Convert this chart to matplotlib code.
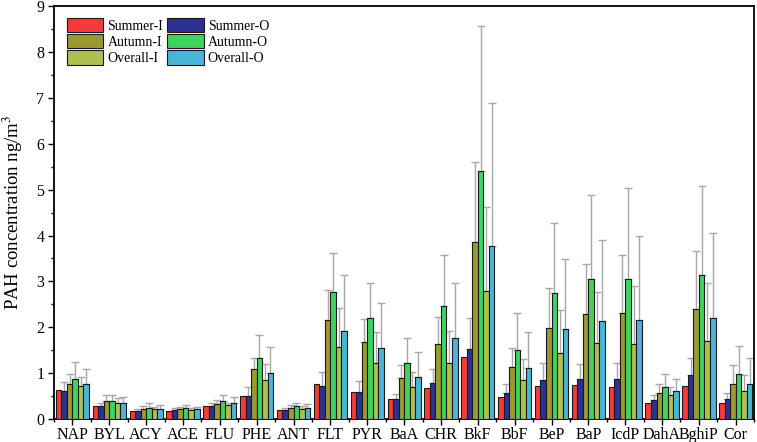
import numpy as np
import matplotlib
matplotlib.use('Agg')
import matplotlib.pyplot as plt
from matplotlib.ticker import MultipleLocator, FixedLocator

plt.rcParams['font.family'] = ['Liberation Serif', 'DejaVu Serif']
plt.rcParams['mathtext.fontset'] = 'stix'

# Categories (PAH compounds)
pahs = ['NAP', 'BYL', 'ACY', 'ACE', 'FLU', 'PHE', 'ANT', 'FLT', 'PYR', 'BaA',
        'CHR', 'BkF', 'BbF', 'BeP', 'BaP', 'IcdP', 'DahA', 'BghiP', 'Cor']

# Mean concentrations (ng/m3)
summer_i = [0.63, 0.29, 0.18, 0.175, 0.275, 0.50, 0.196, 0.77, 0.59, 0.43,
            0.68, 1.35, 0.49, 0.72, 0.74, 0.69, 0.36, 0.73, 0.35]
summer_o = [0.61, 0.29, 0.18, 0.19, 0.29, 0.50, 0.19, 0.73, 0.59, 0.43,
            0.78, 1.52, 0.57, 0.86, 0.87, 0.88, 0.42, 0.95, 0.43]
autumn_i = [0.755, 0.39, 0.225, 0.21, 0.33, 1.09, 0.23, 2.15, 1.67, 0.89,
            1.64, 3.85, 1.13, 1.98, 2.29, 2.31, 0.57, 2.39, 0.77]
autumn_o = [0.88, 0.39, 0.25, 0.23, 0.39, 1.34, 0.28, 2.76, 2.21, 1.23,
            2.46, 5.40, 1.50, 2.75, 3.05, 3.06, 0.69, 3.13, 0.99]
overall_i = [0.71, 0.35, 0.21, 0.20, 0.305, 0.84, 0.22, 1.57, 1.22, 0.70,
             1.23, 2.80, 0.86, 1.45, 1.65, 1.63, 0.52, 1.70, 0.60]
overall_o = [0.77, 0.35, 0.225, 0.22, 0.35, 0.995, 0.23, 1.92, 1.54, 0.91,
             1.76, 3.77, 1.11, 1.96, 2.14, 2.15, 0.60, 2.21, 0.76]

# Top of the error bars (mean + SD)
summer_o_top = [0.81, 0.36, 0.21, 0.23, 0.36, 0.70, 0.24, 1.02, 0.82, 0.545,
                1.09, 2.20, 0.755, 1.23, 1.19, 1.22, 0.52, 1.34, 0.56]
autumn_i_top = [0.98, 0.52, 0.28, 0.27, 0.41, 1.34, 0.30, 2.81, 2.18, 1.17,
                2.23, 5.60, 1.54, 2.85, 3.37, 3.57, 0.755, 3.66, 1.17]
autumn_o_top = [1.25, 0.52, 0.34, 0.31, 0.52, 1.83, 0.36, 3.63, 2.96, 1.76,
                3.57, 8.56, 2.32, 4.28, 4.88, 5.03, 0.99, 5.07, 1.60]
overall_i_top = [0.91, 0.46, 0.27, 0.25, 0.36, 1.21, 0.29, 2.43, 1.90, 1.02,
                 1.92, 4.63, 1.31, 2.37, 2.77, 2.89, 0.69, 2.97, 0.97]
overall_o_top = [1.10, 0.47, 0.30, 0.27, 0.47, 1.56, 0.32, 3.14, 2.54, 1.47,
                 2.96, 6.88, 1.90, 3.48, 3.91, 4.00, 0.87, 4.06, 1.32]

series = [
    ('Summer-I', summer_i, None, '#F83A3A'),
    ('Summer-O', summer_o, summer_o_top, '#2D3094'),
    ('Autumn-I', autumn_i, autumn_i_top, '#9A9A30'),
    ('Autumn-O', autumn_o, autumn_o_top, '#3DD460'),
    ('Overall-I', overall_i, overall_i_top, '#ADC150'),
    ('Overall-O', overall_o, overall_o_top, '#4AB5D9'),
]

fig = plt.figure(figsize=(7.57, 4.42), dpi=100)
ax = fig.add_axes([0.0713, 0.052, 0.925, 0.934])

x = np.arange(len(pahs))
width = 0.15
handles = {}
for i, (name, vals, tops, color) in enumerate(series):
    pos = x + (i - 2.5) * width
    b = ax.bar(pos, vals, width, color=color, edgecolor='#1a1a1a',
               linewidth=0.8, label=name, zorder=3)
    handles[name] = b
    if tops is not None:
        err = np.array(tops) - np.array(vals)
        _, caps, bars = ax.errorbar(pos, vals, yerr=[np.zeros_like(err), err],
                                    fmt='none', ecolor='#a8a8a8', elinewidth=1.0,
                                    capsize=3, capthick=1.0, zorder=2)
        for c in caps:
            c.set_color('#606060')

ax.set_xlim(-0.5, len(pahs) - 0.5)
ax.set_ylim(0, 9)
ax.set_xticks(x)
ax.set_xticklabels(pahs)
ax.xaxis.set_minor_locator(FixedLocator(np.arange(-0.5, len(pahs), 1)))
ax.yaxis.set_major_locator(MultipleLocator(1))
ax.yaxis.set_minor_locator(MultipleLocator(0.5))
ax.tick_params(axis='both', which='major', direction='out', length=4, width=1.0,
               labelsize=11.5, colors='black')
ax.tick_params(axis='both', which='minor', direction='out', length=2.5, width=1.0)
ax.tick_params(axis='x', which='major', pad=2)
ax.tick_params(axis='y', which='major', pad=3)
for s in ax.spines.values():
    s.set_linewidth(1.3)

ax.set_ylabel('PAH concentration ng/m$^3$', fontsize=13.5, labelpad=8)

order = ['Summer-I', 'Autumn-I', 'Overall-I', 'Summer-O', 'Autumn-O', 'Overall-O']
ax.legend([handles[n] for n in order], order, ncol=2, loc='upper left',
          bbox_to_anchor=(0.005, 0.995), frameon=False, fontsize=10,
          handlelength=2.6, handleheight=1.2, handletextpad=0.3,
          columnspacing=0.3, labelspacing=0.1, borderaxespad=0.3)

plt.savefig('out.png', dpi=100)
